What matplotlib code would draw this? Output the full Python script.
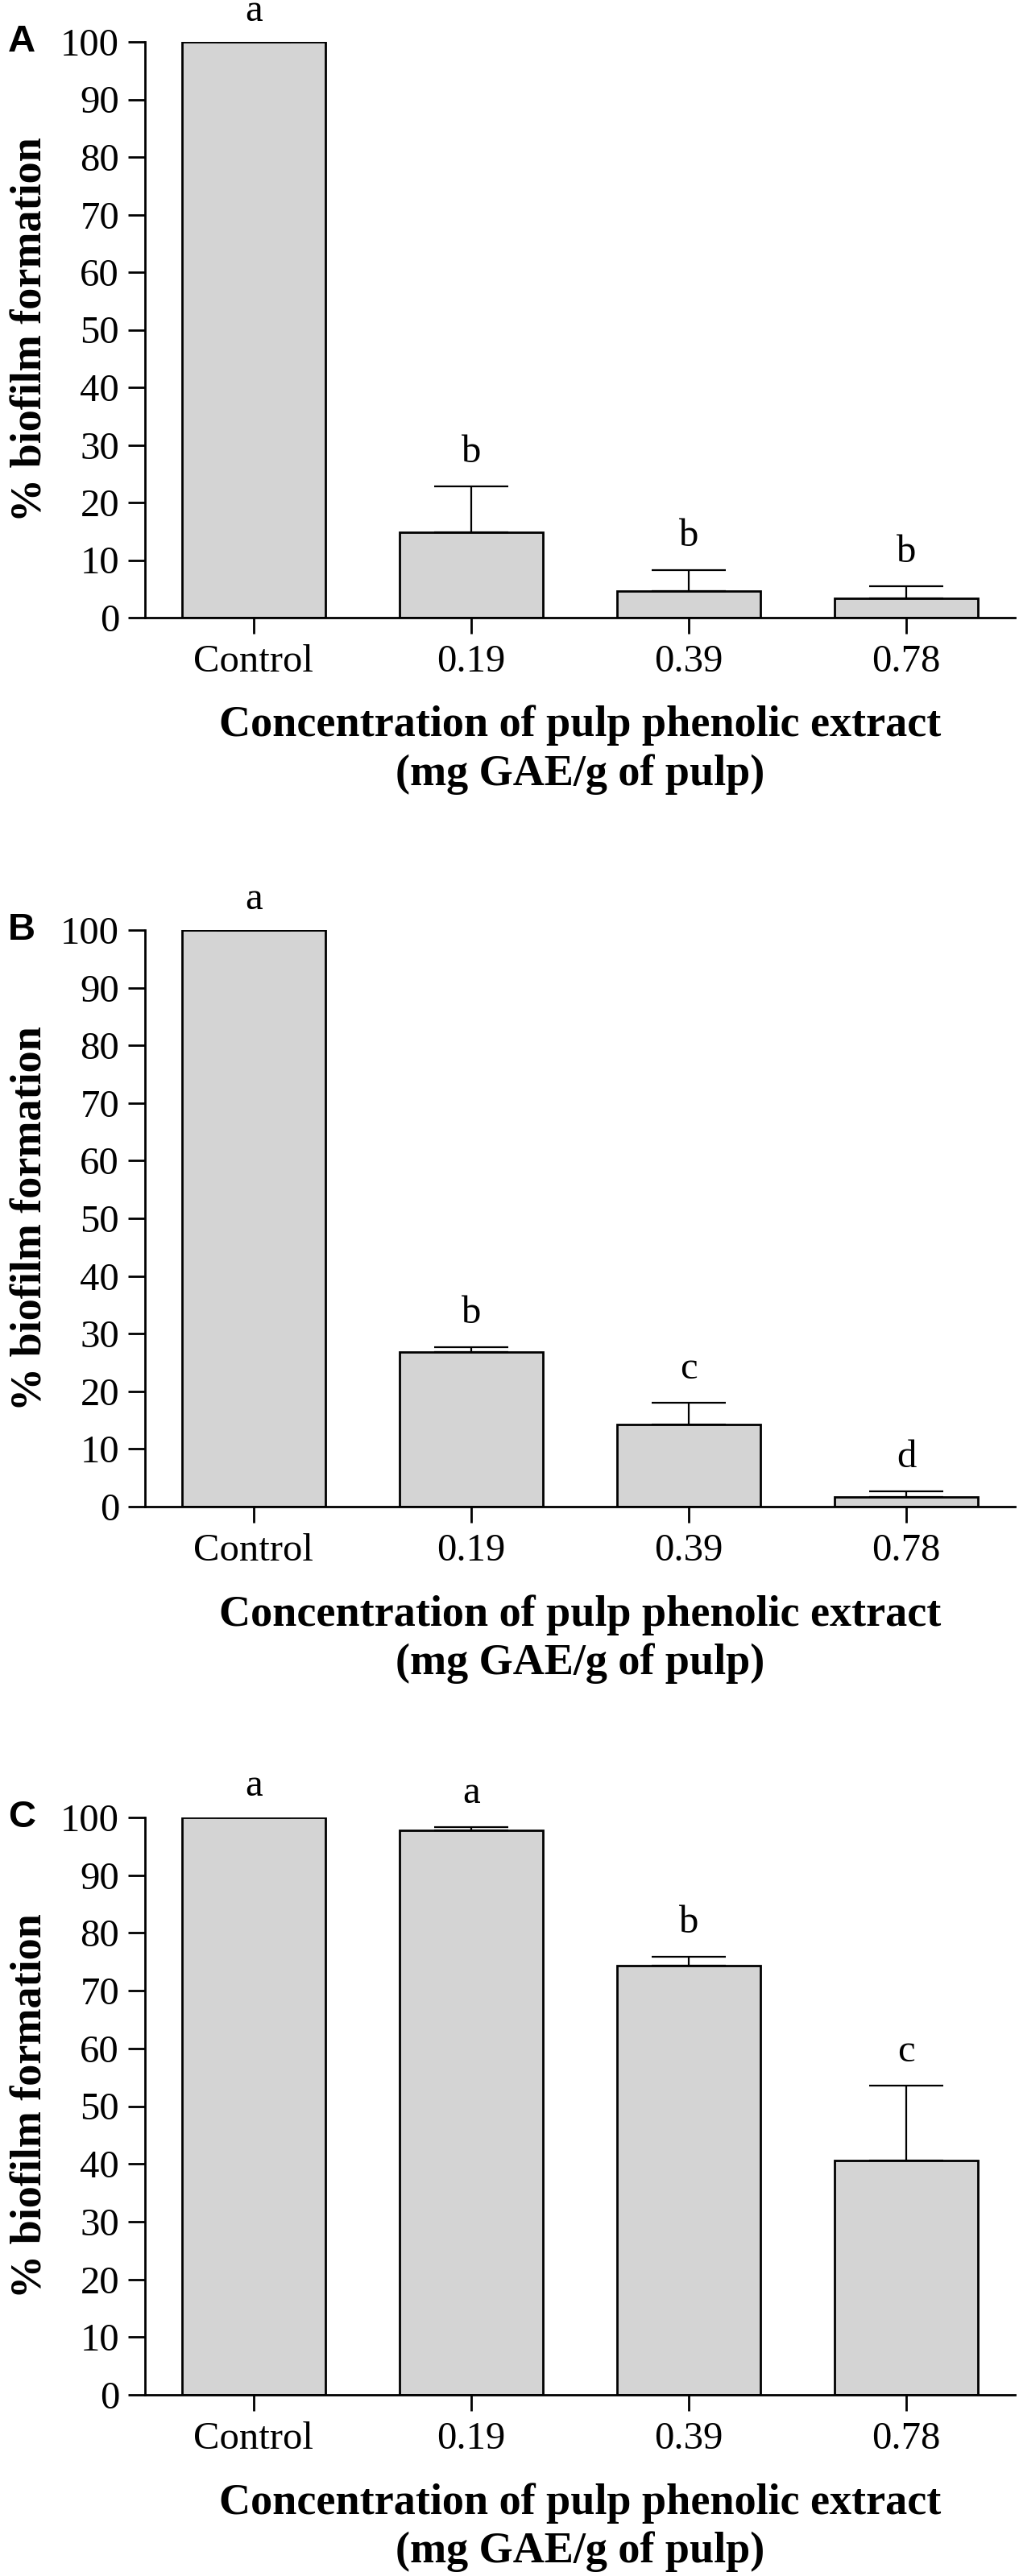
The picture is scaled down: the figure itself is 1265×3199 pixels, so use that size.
import numpy as np
import matplotlib
matplotlib.use("Agg")
import matplotlib.pyplot as plt

plt.rcParams['font.family'] = ['Liberation Serif', 'DejaVu Serif']

# categories on the x axis
groups = ["Control", "0.19", "0.39", "0.78"]

# panel A
a_mean = [100, 14.8, 4.6, 3.3]
a_err = [0, 8.0, 3.6, 2.2]
a_sig = ["a", "b", "b", "b"]

# panel B
b_mean = [100, 26.8, 14.3, 1.7]
b_err = [0, 0.9, 3.7, 1.0]
b_sig = ["a", "b", "c", "d"]

# panel C
c_mean = [100, 97.8, 74.3, 40.6]
c_err = [0, 0.5, 1.6, 12.9]
c_sig = ["a", "a", "b", "c"]

panels = [("A", a_mean, a_err, a_sig),
          ("B", b_mean, b_err, b_sig),
          ("C", c_mean, c_err, c_sig)]

W, H = 1265, 3199
fig = plt.figure(figsize=(W / 100, H / 100), dpi=100)

# pixel top/bottom of each plot area
tops = [52, 1155, 2257]
bottoms = [767, 1871, 2974]
left_px, right_px = 180, 1260

for (letter, mean, err, sig), top, bot in zip(panels, tops, bottoms):
    ax = fig.add_axes([left_px / W, 1 - bot / H,
                       (right_px - left_px) / W, (bot - top) / H])
    x = np.arange(len(groups))
    lower = [0] * len(err)
    ax.bar(x, mean, width=0.66, color='#d4d4d4', edgecolor='black',
           linewidth=2, yerr=[lower, err], capsize=33,
           error_kw=dict(elinewidth=1.6, capthick=1.6, ecolor='black'))
    # significance letters above each bar
    for xi, m, e, s in zip(x, mean, err, sig):
        off = 3.7 if e == 0 else 4.2
        ax.text(xi, m + e + off, s, ha='center', va='baseline',
                fontsize=35, clip_on=False)

    ax.set_xlim(-0.5, 3.5)
    ax.set_ylim(0, 100)
    ax.set_yticks(range(0, 101, 10))
    ax.set_xticks(x)
    ax.set_xticklabels(groups)
    ax.spines['top'].set_visible(False)
    ax.spines['right'].set_visible(False)
    ax.spines['left'].set_linewidth(2)
    ax.spines['bottom'].set_linewidth(2)
    ax.tick_params(axis='y', length=15, width=2, labelsize=35, pad=8)
    ax.tick_params(axis='x', length=14.5, width=2, labelsize=35, pad=9)

    ax.set_ylabel("% biofilm formation", fontsize=39, fontweight='bold')
    ax.yaxis.set_label_coords(-0.108, 0.5)
    ax.set_xlabel("Concentration of pulp phenolic extract\n(mg GAE/g of pulp)",
                  fontsize=39, fontweight='bold', linespacing=1.25)
    ax.xaxis.set_label_coords(0.5, -0.152)

    fig.text(10 / W, 1 - (top + 12) / H, letter, fontsize=34,
             fontweight='bold', family='Liberation Sans',
             ha='left', va='baseline')

fig.savefig("out.png", dpi=100)
